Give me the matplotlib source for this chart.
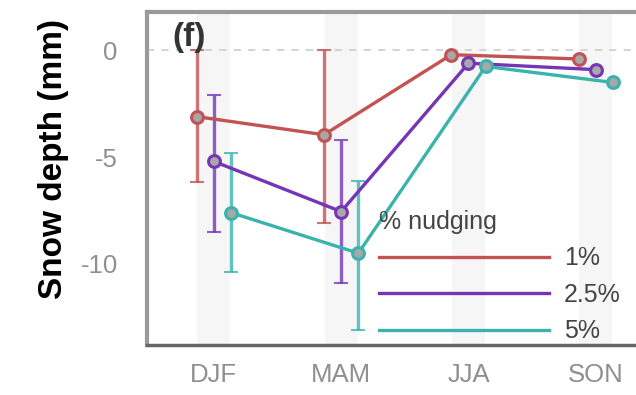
import numpy as np
import matplotlib
matplotlib.use('Agg')
import matplotlib.pyplot as plt

# Data
seasons = ['DJF', 'MAM', 'JJA', 'SON']
labels = ['1%', '2.5%', '5%']
colors = ['#c25352', '#7535b5', '#3bb3ad']

mean_1 = [-3.1, -3.95, -0.2, -0.4]
low_1 = [-6.15, -8.1, np.nan, np.nan]
high_1 = [0.0, 0.0, np.nan, np.nan]

mean_25 = [-5.2, -7.55, -0.6, -0.9]
low_25 = [-8.5, -10.9, np.nan, np.nan]
high_25 = [-2.1, -4.2, np.nan, np.nan]

mean_5 = [-7.6, -9.5, -0.75, -1.5]
low_5 = [-10.4, -13.1, np.nan, np.nan]
high_5 = [-4.8, -6.1, np.nan, np.nan]

yticks = [0, -5, -10]


def main():
    plt.rcParams['font.family'] = ['Liberation Sans', 'DejaVu Sans']
    fig = plt.figure(figsize=(6.36, 3.95), dpi=100)
    ax = fig.add_axes([0.231, 0.1266, 0.811, 0.843])

    x = np.arange(len(seasons))
    # faint band behind each season
    for xi in x:
        ax.axvspan(xi - 0.13, xi + 0.13, color='#f6f6f6', zorder=0, lw=0)
    ax.axhline(0, color='#d0d0d0', lw=1.3, ls=(0, (4, 4)), zorder=1)

    series = [(mean_1, low_1, high_1), (mean_25, low_25, high_25),
              (mean_5, low_5, high_5)]
    offsets = [-0.135, 0.0, 0.135]
    for (m, lo, hi), lab, col, off in zip(series, labels, colors, offsets):
        m = np.array(m)
        err = np.vstack([m - np.array(lo), np.array(hi) - m])
        ax.errorbar(x + off, m, yerr=err, fmt='none', ecolor=col,
                    elinewidth=2.4, capsize=5, capthick=1.5, alpha=0.8,
                    zorder=2)
        ax.plot(x + off, m, color=col, lw=2.4, label=lab, zorder=3)
        ax.plot(x + off, m, 'o', ms=8.5, mfc='#a8a8a8', mec=col, mew=2.2,
                zorder=4)

    ax.set_xlim(-0.526, 3.526)
    ax.set_ylim(-13.8, 1.8)
    ax.set_xticks(x)
    ax.set_xticklabels(seasons)
    ax.set_yticks(yticks)
    ax.set_yticklabels(['0', '-5', '-10'])
    ax.tick_params(length=0, labelsize=18.5, labelcolor='#8f8f8f')
    ax.tick_params(axis='x', pad=13)
    ax.tick_params(axis='y', pad=21)

    ax.set_ylabel('Snow depth (mm)', fontsize=24, fontweight='bold')
    ax.yaxis.set_label_coords(-0.152, 0.56)

    for side in ['left', 'top']:
        ax.spines[side].set_color('#9a9a9a')
        ax.spines[side].set_linewidth(3)
    ax.spines['bottom'].set_color('#666666')
    ax.spines['bottom'].set_linewidth(2.5)
    ax.spines['right'].set_visible(False)

    ax.text(0.05, 0.97, '(f)', transform=ax.transAxes, fontsize=24,
            fontweight='bold', color='#333333', va='top')

    leg = ax.legend(title='% nudging', loc='lower left',
                    bbox_to_anchor=(0.45, 0.005), frameon=False,
                    fontsize=18, title_fontsize=18, handlelength=6.8,
                    handletextpad=0.6, labelspacing=0.5, alignment='left',
                    borderaxespad=0, borderpad=0)
    for t in leg.get_texts():
        t.set_color('#444444')
    leg.get_title().set_color('#444444')

    fig.savefig('out.png', dpi=100)


if __name__ == "__main__":
    main()
